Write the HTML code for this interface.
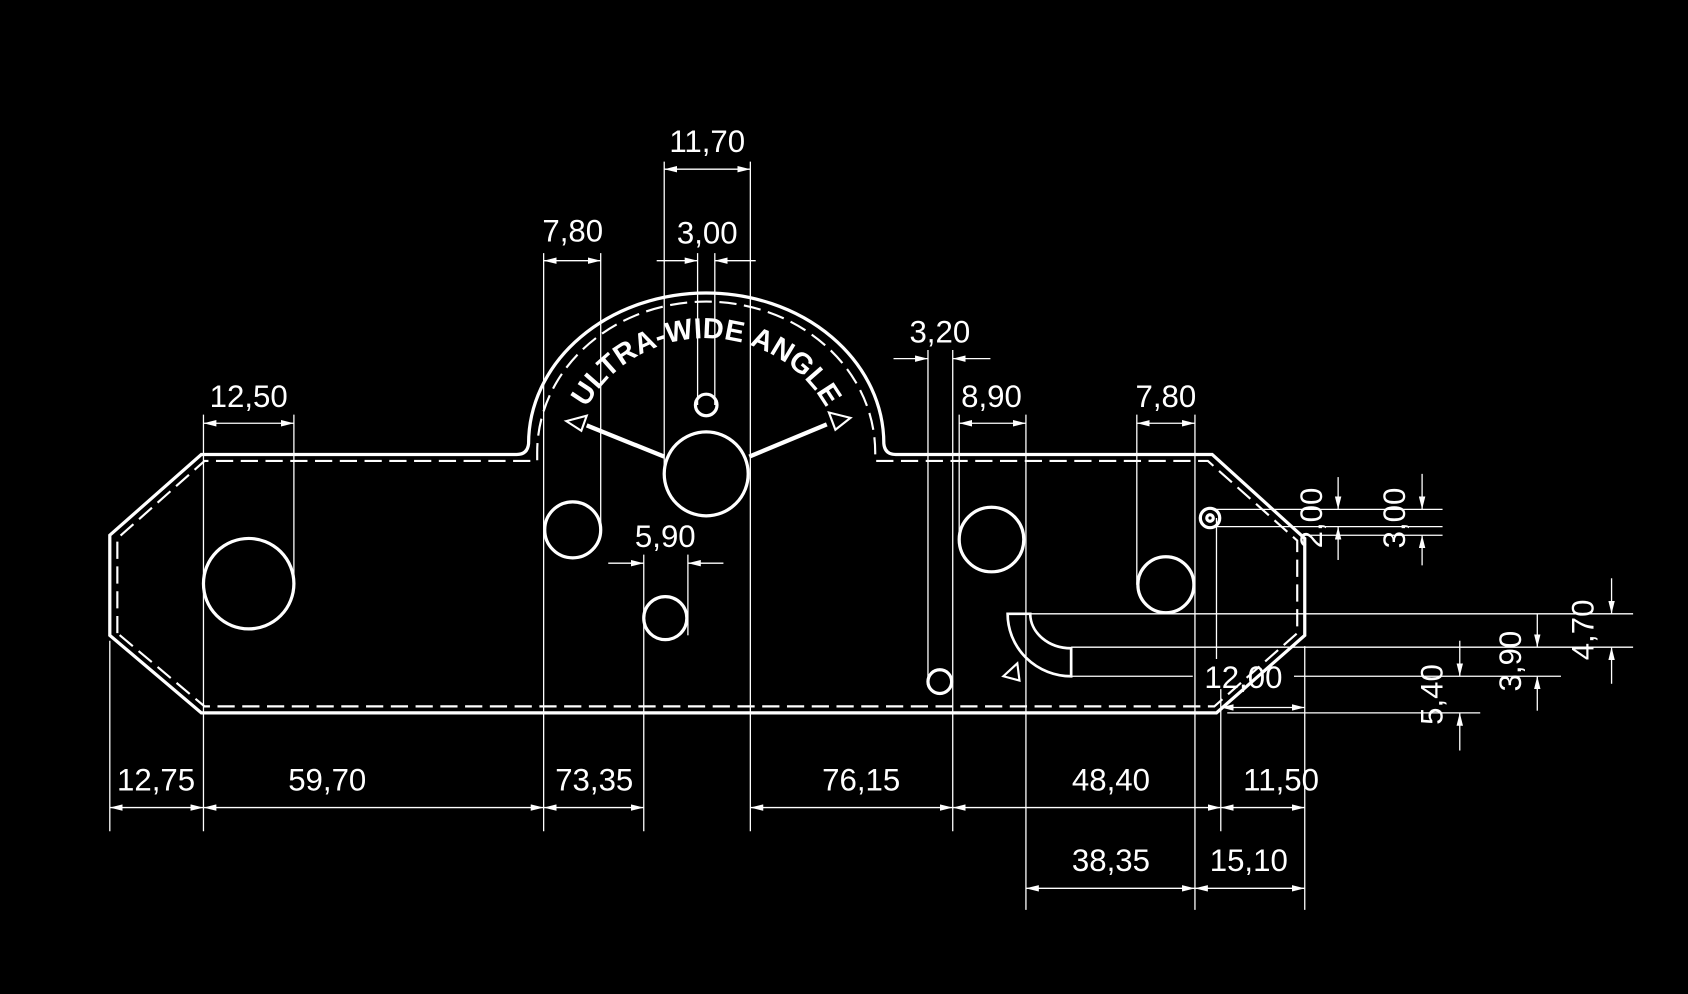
<!DOCTYPE html>
<html><head><meta charset="utf-8"><style>
html,body{margin:0;padding:0;background:#000;width:1688px;height:994px;overflow:hidden}
svg{display:block}
.t{font-family:"Liberation Sans",sans-serif;font-size:29px;fill:#fff;text-anchor:middle}
</style></head><body>
<svg width="1688" height="994" viewBox="0 0 1568 923" xmlns="http://www.w3.org/2000/svg">
<defs>
<marker id="a" viewBox="0 0 12 6" refX="12" refY="3" markerWidth="12" markerHeight="6" orient="auto-start-reverse" markerUnits="userSpaceOnUse"><path d="M0,0L12,3L0,6z" fill="#fff"/></marker>
</defs>
<rect width="1568" height="923" fill="#000"/>
<g fill="none" stroke="#fff" stroke-width="3">
<path d="M102,590 L102,497 L187,422 L480,422 Q490,422 491,412 A165 140 0 0 1 821,412 Q822,422 832,422 L1126,422 L1212,500 L1212,590 L1130,662 L187,662 Z"/>
<circle cx="231" cy="542" r="42"/>
<circle cx="532" cy="492" r="26"/>
<circle cx="656" cy="440" r="39"/>
<circle cx="656" cy="376" r="10"/>
<circle cx="618" cy="574" r="20"/>
<circle cx="921" cy="501" r="30"/>
<circle cx="1083" cy="543" r="26"/>
<circle cx="873" cy="633" r="11"/>
<circle cx="1124" cy="481" r="9"/>
<circle cx="1124" cy="481" r="3"/>
<path d="M936,570 L957,570 A38 32 0 0 0 995,602 L995,628 A59 58 0 0 1 936,570 Z" stroke-width="2.5"/>
<path d="M932,628 L945,616 L947,632 Z" stroke-width="2"/>
<line x1="617" y1="424" x2="545" y2="395" stroke-width="4"/>
<line x1="696" y1="424" x2="768" y2="394" stroke-width="4"/>
<path d="M526,391 L545,386 L540,400 Z" stroke-width="2"/>
<path d="M790,388 L770,383 L776,399 Z" stroke-width="2"/>
</g>
<path d="M109,588 L109,500 L190,428 L486,428 L499,428 L499,420 A157 140 0 0 1 813,420 L813,428 L1122,428 L1205,502 L1205,588 L1128,656 L190,656 Z" fill="none" stroke="#fff" stroke-width="2" stroke-dasharray="16,7"/>
<path id="arc" d="M530,436 A126 122 0 0 1 782,436" fill="none"/>
<text style="font-family:'Liberation Sans',sans-serif;font-weight:bold;font-size:27px;fill:#fff"><textPath href="#arc" startOffset="50%" text-anchor="middle">ULTRA-WIDE ANGLE</textPath></text>
<g stroke="#fff" stroke-width="1.2" fill="none">
<line x1="102" y1="595" x2="102" y2="772"/>
<line x1="189" y1="385" x2="189" y2="772"/>
<line x1="273" y1="385" x2="273" y2="542"/>
<line x1="505" y1="235" x2="505" y2="772"/>
<line x1="558" y1="235" x2="558" y2="492"/>
<line x1="598" y1="515" x2="598" y2="772"/>
<line x1="639" y1="515" x2="639" y2="590"/>
<line x1="617" y1="150" x2="617" y2="440"/>
<line x1="697" y1="150" x2="697" y2="772"/>
<line x1="648" y1="235" x2="648" y2="376"/>
<line x1="664" y1="235" x2="664" y2="376"/>
<line x1="862" y1="325" x2="862" y2="633"/>
<line x1="885" y1="325" x2="885" y2="772"/>
<line x1="891" y1="385" x2="891" y2="500"/>
<line x1="953" y1="385" x2="953" y2="845"/>
<line x1="1056" y1="385" x2="1056" y2="543"/>
<line x1="1110" y1="385" x2="1110" y2="845"/>
<line x1="1130" y1="481" x2="1130" y2="612"/>
<line x1="1134" y1="640" x2="1134" y2="772"/>
<line x1="1212" y1="600" x2="1212" y2="845"/>
<line x1="1128" y1="473" x2="1340" y2="473"/>
<line x1="1128" y1="489" x2="1340" y2="489"/>
<line x1="1215" y1="497" x2="1340" y2="497"/>
<line x1="936" y1="570" x2="1517" y2="570"/>
<line x1="995" y1="601" x2="1517" y2="601"/>
<line x1="995" y1="628" x2="1108" y2="628"/>
<line x1="1202" y1="628" x2="1450" y2="628"/>
<line x1="1140" y1="662" x2="1375" y2="662"/>
<g marker-start="url(#a)" marker-end="url(#a)">
<line x1="102" y1="750" x2="189" y2="750"/>
<line x1="189" y1="750" x2="505" y2="750"/>
<line x1="505" y1="750" x2="598" y2="750"/>
<line x1="697" y1="750" x2="885" y2="750"/>
<line x1="885" y1="750" x2="1134" y2="750"/>
<line x1="1134" y1="750" x2="1212" y2="750"/>
<line x1="953" y1="825" x2="1110" y2="825"/>
<line x1="1110" y1="825" x2="1212" y2="825"/>
<line x1="617" y1="157" x2="697" y2="157"/>
<line x1="505" y1="242" x2="558" y2="242"/>
<line x1="189" y1="393" x2="273" y2="393"/>
<line x1="891" y1="393" x2="953" y2="393"/>
<line x1="1056" y1="393" x2="1110" y2="393"/>
<line x1="1134" y1="657" x2="1212" y2="657"/>
</g>
<g marker-end="url(#a)">
<line x1="610" y1="242" x2="648" y2="242"/>
<line x1="702" y1="242" x2="664" y2="242"/>
<line x1="830" y1="333" x2="862" y2="333"/>
<line x1="920" y1="333" x2="885" y2="333"/>
<line x1="565" y1="523" x2="598" y2="523"/>
<line x1="672" y1="523" x2="639" y2="523"/>
<line x1="1243" y1="443" x2="1243" y2="473"/>
<line x1="1243" y1="520" x2="1243" y2="489"/>
<line x1="1321" y1="440" x2="1321" y2="473"/>
<line x1="1321" y1="525" x2="1321" y2="497"/>
<line x1="1497" y1="537" x2="1497" y2="570"/>
<line x1="1497" y1="635" x2="1497" y2="601"/>
<line x1="1428" y1="570" x2="1428" y2="601"/>
<line x1="1428" y1="660" x2="1428" y2="628"/>
<line x1="1356" y1="595" x2="1356" y2="628"/>
<line x1="1356" y1="697" x2="1356" y2="662"/>
</g>
</g>
<g>
<text class="t" x="657" y="141">11,70</text>
<text class="t" x="657" y="226">3,00</text>
<text class="t" x="532" y="224">7,80</text>
<text class="t" x="231" y="378">12,50</text>
<text class="t" x="873" y="318">3,20</text>
<text class="t" x="921" y="378">8,90</text>
<text class="t" x="1083" y="378">7,80</text>
<text class="t" x="618" y="508">5,90</text>
<text class="t" x="145" y="734">12,75</text>
<text class="t" x="304" y="734">59,70</text>
<text class="t" x="552" y="734">73,35</text>
<text class="t" x="800" y="734">76,15</text>
<text class="t" x="1032" y="734">48,40</text>
<text class="t" x="1190" y="734">11,50</text>
<text class="t" x="1032" y="809">38,35</text>
<text class="t" x="1160" y="809">15,10</text>
<text class="t" x="1155" y="639">12,00</text>
<text class="t" transform="translate(1228,481) rotate(-90)">2,00</text>
<text class="t" transform="translate(1305,481) rotate(-90)">3,00</text>
<text class="t" transform="translate(1340,645) rotate(-90)">5,40</text>
<text class="t" transform="translate(1413,614) rotate(-90)">3,90</text>
<text class="t" transform="translate(1480,585) rotate(-90)">4,70</text>
</g>
</svg>
</body></html>
